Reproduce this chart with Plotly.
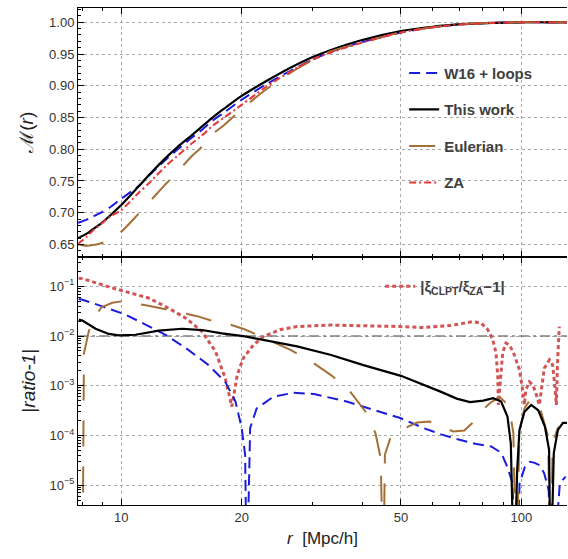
import plotly.graph_objects as go

# ---------------- top panel data: M(r) ----------------
r_top = [7.8, 8.2, 8.5, 8.9, 9.4, 10, 11, 11.8, 13, 13.8, 15, 15.8, 17, 18, 20, 23, 26.4, 30,
         33.3, 40, 50, 60, 71.5, 85, 100, 115, 130]
M_w16 = [0.684, 0.689, 0.694, 0.700, 0.709, 0.722, 0.741, 0.760, 0.785, 0.799, 0.818, 0.829,
         0.846, 0.857, 0.878, 0.902, 0.923, 0.941, 0.953, 0.969, 0.984, 0.992, 0.997, 0.999,
         1.000, 1.000, 1.000]
M_this = [0.660, 0.667, 0.674, 0.683, 0.696, 0.712, 0.740, 0.761, 0.788, 0.803, 0.822, 0.834,
          0.851, 0.863, 0.884, 0.907, 0.928, 0.945, 0.956, 0.972, 0.986, 0.993, 0.997, 0.999,
          1.000, 1.000, 1.000]
M_euler = [0.650, 0.648, 0.649, 0.652, 0.657, 0.670, 0.697, 0.718, 0.747, 0.764, 0.789, 0.802,
           0.825, 0.837, 0.863, 0.894, 0.920, 0.940, 0.954, 0.968, 0.984, 0.992, 0.997, 0.999,
           1.000, 1.000, 1.000]
M_za = [0.651, 0.662, 0.672, 0.682, 0.694, 0.704, 0.730, 0.748, 0.775, 0.789, 0.809, 0.820,
        0.838, 0.849, 0.870, 0.898, 0.922, 0.941, 0.952, 0.968, 0.984, 0.992, 0.997, 0.999,
        1.000, 1.000, 1.000]

# ---------------- bottom panel data: |ratio - 1| ----------------
r_this = [7.83, 8.0, 8.63, 9.31, 9.86, 10.86, 12.41, 14.19, 15.92, 17.86, 20.4, 22.7, 27.5, 33.3,
          40.3, 50, 57, 62.8, 68.9, 74.4, 80.3, 85, 89, 92.3, 94.1, 95.9, 97.6, 98.9, 101.8,
          105.8, 110.2, 114.5, 117.3, 118.3, 120.5, 123.4, 127, 130]
d_this = [0.0214, 0.0204, 0.0140, 0.0110, 0.0103, 0.0106, 0.0128, 0.0140, 0.0132, 0.0113, 0.0098,
          0.0084, 0.0062, 0.0042, 0.0026, 0.00158, 0.00105, 7.6e-4, 5.5e-4, 4.7e-4, 5.0e-4,
          5.6e-4, 4.8e-4, 2.4e-4, 6.9e-5, 1e-7, 2.0e-5, 1.29e-4, 3.0e-4, 4.1e-4, 3.2e-4, 1.5e-4,
          5.1e-5, 1e-7, 4.4e-5, 1.29e-4, 1.78e-4, 1.78e-4]

r_w16 = [7.83, 8.0, 8.97, 10.25, 11.5, 12.9, 14.5, 16.5, 18.2, 19.3, 20.0, 20.4, 20.6, 21.0, 21.8,
         24.0, 26.9, 30.3, 36.6, 44.2, 49.8, 56.9, 63, 68.9, 76.7, 84, 89, 92.3, 95, 96.9, 99,
         102, 105, 108, 111.1, 114, 117, 119.5, 124.8, 129]
d_w16 = [0.0556, 0.0537, 0.0395, 0.0269, 0.0170, 0.0106, 0.00575, 0.00263, 0.00120, 4.8e-4,
         1.41e-4, 4.1e-5, 1e-7, 1.41e-4, 3.5e-4, 6.0e-4, 7.2e-4, 6.8e-4, 4.8e-4, 3.0e-4, 2.24e-4,
         1.41e-4, 1.05e-4, 8.5e-5, 6.8e-5, 6.0e-5, 4.5e-5, 2.3e-5, 1.1e-5, 1e-7, 1.1e-5, 2.3e-5,
         2.95e-5, 2.8e-5, 2.5e-5, 1.74e-5, 7.9e-6, 1e-7, 1.1e-5, 1.48e-5]

r_euler = [8.0, 8.07, 8.3, 8.55, 8.93, 9.5, 10.06, 11.7, 13.4, 15.47, 17.5, 18.74, 20.4, 22.7,
           26.5, 29.7, 33.5, 37.2, 40.8, 43.2, 44.5, 45.2, 45.6, 47.2, 49.8, 54.9, 58.9, 63.4,
           67.5, 72.0, 75.4, 79.1, 83.5, 88.2, 90.8, 93.4, 95.5, 97.1, 98.9, 101.8, 105.8,
           111.1, 116.6, 118.3, 119.7, 123.4, 125]
d_euler = [1e-7, 0.00447, 0.0126, 0.0229, 0.038, 0.0468, 0.0501, 0.0407, 0.0324, 0.0251, 0.0186,
           0.0170, 0.0135, 0.0091, 0.00525, 0.00316, 0.00162, 7.9e-4, 3.0e-4, 1.1e-4, 3.5e-5,
           1e-7, 4.1e-5, 9.5e-5, 1.26e-4, 1.82e-4, 1.9e-4, 1.51e-4, 1.2e-4, 1.26e-4, 1.78e-4,
           2.95e-4, 4.5e-4, 5.9e-4, 4.8e-4, 3.2e-4, 1.12e-4, 1e-7, 1.26e-4, 3.5e-4, 5.6e-4,
           3.8e-4, 9.5e-5, 1e-7, 7.1e-5, 1.41e-4, 1.51e-4]

r_clpt = [7.83, 8.0, 9.31, 10.25, 11.7, 13.1, 14.5, 15.9, 17.2, 18.2, 18.9, 19.5, 20.2, 21.4,
          22.7, 25.0, 27.5, 33.3, 40.3, 49.8, 56.9, 66.3, 75.5, 79.3, 82.4, 84.8, 86.4, 87.3,
          87.6, 88.9, 89.8, 91.5, 93.4, 96.0, 98.9, 100.7, 101.7, 102.6, 104.7, 106.7, 108.7,
          110.9, 114.1, 117.5, 119.7, 121.3, 122.3, 123.2, 124.4]
d_clpt = [0.146, 0.143, 0.0973, 0.0794, 0.0583, 0.0367, 0.0229, 0.0124, 0.0049, 0.00141, 3.8e-4,
          0.00166, 0.00363, 0.0066, 0.0098, 0.0135, 0.0155, 0.0166, 0.0162, 0.0155, 0.0148,
          0.0162, 0.0195, 0.0182, 0.0135, 0.0085, 0.0046, 0.00155, 4.1e-4, 0.00155, 0.0046,
          0.0072, 0.0066, 0.0042, 0.0021, 8.3e-4, 4.1e-4, 8.3e-4, 0.0012, 0.00105, 7.1e-4,
          4.1e-4, 0.00224, 0.0033, 0.0026, 9.5e-4, 4.1e-4, 0.0033, 0.0155]

r_ref = [7.8, 130]
d_ref = [0.01, 0.01]

# ---------------- ticks ----------------
x_ticks = [10, 20, 50, 100]
x_minor = [8, 9, 30, 40, 60, 70, 80, 90]
y1_ticks = [0.65, 0.70, 0.75, 0.80, 0.85, 0.90, 0.95, 1.00]
y1_labels = ["0.65", "0.70", "0.75", "0.80", "0.85", "0.90", "0.95", "1.00"]
y1_minor = [0.63 + 0.01 * i for i in range(40)]
y2_ticks = [1e-1, 1e-2, 1e-3, 1e-4, 1e-5]
y2_labels = ["10<sup>−1</sup>", "10<sup>−2</sup>", "10<sup>−3</sup>", "10<sup>−4</sup>", "10<sup>−5</sup>"]
y2_minor = [m * 10.0 ** e for e in range(-6, 0) for m in range(2, 10)]

BLUE = "#1c1cdc"
BROWN = "#a56f38"
RED = "#ea3535"
RED2 = "#d25555"

fig = go.Figure()

# top panel
fig.add_trace(go.Scatter(x=r_top, y=M_w16, name="<b>W16 + loops</b>", mode="lines",
                         line=dict(color=BLUE, width=2, dash="11px,6px", shape="spline", smoothing=0.8),
                         xaxis="x", yaxis="y", legend="legend", legendgroup="a"))
fig.add_trace(go.Scatter(x=r_top, y=M_this, name="<b>This work</b>", mode="lines",
                         line=dict(color="black", width=2.2, shape="spline", smoothing=0.8),
                         xaxis="x", yaxis="y", legend="legend", legendgroup="b"))
fig.add_trace(go.Scatter(x=r_top, y=M_euler, name="<b>Eulerian</b>", mode="lines",
                         line=dict(color=BROWN, width=2, dash="26px,20px", shape="spline", smoothing=0.8),
                         xaxis="x", yaxis="y", legend="legend", legendgroup="c"))
fig.add_trace(go.Scatter(x=r_top, y=M_za, name="<b>ZA</b>", mode="lines",
                         line=dict(color=RED, width=2, dash="7px,3px,2px,3px", shape="spline", smoothing=0.8),
                         xaxis="x", yaxis="y", legend="legend", legendgroup="d"))

# bottom panel
fig.add_trace(go.Scatter(x=r_ref, y=d_ref, mode="lines", showlegend=False,
                         line=dict(color="#808080", width=1.5, dash="10px,4px,3px,4px"),
                         xaxis="x2", yaxis="y2"))
fig.add_trace(go.Scatter(x=r_clpt, y=d_clpt, mode="lines",
                         name="<b>|ξ<sub>CLPT</sub>/ξ<sub>ZA</sub>−1|</b>",
                         line=dict(color=RED2, width=3, dash="4px,3px"),
                         xaxis="x2", yaxis="y2", legend="legend2"))
fig.add_trace(go.Scatter(x=r_w16, y=d_w16, mode="lines", showlegend=False,
                         line=dict(color=BLUE, width=2, dash="11px,6px"),
                         xaxis="x2", yaxis="y2"))
fig.add_trace(go.Scatter(x=r_euler, y=d_euler, mode="lines", showlegend=False,
                         line=dict(color=BROWN, width=2, dash="26px,20px"),
                         xaxis="x2", yaxis="y2"))
fig.add_trace(go.Scatter(x=r_this, y=d_this, mode="lines", showlegend=False,
                         line=dict(color="black", width=2.2),
                         xaxis="x2", yaxis="y2"))

FONT = "Liberation Sans, Arial, sans-serif"
tickfont = dict(family=FONT, size=13, color="#333333")
grid = dict(showgrid=True, gridcolor="#a8a8a8", griddash="dot", gridwidth=1)

xcommon = dict(type="log", range=[0.892, 2.114], tickvals=x_ticks, ticktext=[str(v) for v in x_ticks],
               ticks="inside", ticklen=6, tickcolor="black", showline=True, linecolor="black",
               linewidth=1, mirror="ticks", zeroline=False, tickfont=tickfont, automargin=False,
               minor=dict(tickvals=x_minor, ticks="inside", ticklen=3, tickcolor="black", showgrid=False),
               **grid)

fig.update_layout(
    width=568, height=559,
    margin=dict(l=78, r=1, t=8, b=54),
    paper_bgcolor="white", plot_bgcolor="white",
    font=dict(family=FONT, color="#333333"),
    xaxis=dict(anchor="y", domain=[0, 1], showticklabels=False, matches="x2", **xcommon),
    xaxis2=dict(anchor="y2", domain=[0, 1],
                title=dict(text="<i>r</i>  [Mpc/h]", font=dict(family=FONT, size=17, color="#222222"),
                           standoff=8),
                **xcommon),
    yaxis=dict(anchor="x", domain=[0.5, 1], range=[0.631, 1.0225], tickvals=y1_ticks,
               ticktext=y1_labels, ticks="inside", ticklen=6, tickcolor="black", showline=True,
               linecolor="black", linewidth=1, mirror=False, zeroline=False, tickfont=tickfont,
               automargin=False,
               minor=dict(tickvals=y1_minor, ticks="inside", ticklen=3, tickcolor="black", showgrid=False),
               title=dict(text="ℳ(<i>r</i>)", font=dict(family=FONT, size=19, color="#222222"),
                          standoff=10),
               **grid),
    yaxis2=dict(anchor="x2", domain=[0, 0.5], type="log", range=[-5.4, -0.4], tickvals=y2_ticks,
                ticktext=y2_labels, ticks="inside", ticklen=6, tickcolor="black", showline=True,
                linecolor="black", linewidth=1, mirror=False, zeroline=False, tickfont=tickfont,
                automargin=False,
                minor=dict(tickvals=y2_minor, ticks="inside", ticklen=3, tickcolor="black", showgrid=False),
                title=dict(text="|<i>ratio-1</i>|", font=dict(family=FONT, size=19, color="#222222"),
                           standoff=8),
                **grid),
    legend=dict(x=0.667, y=0.902, xanchor="left", yanchor="top", bgcolor="rgba(0,0,0,0)",
                font=dict(family=FONT, size=15, color="#404040"), tracegroupgap=14,
                traceorder="grouped"),
    legend2=dict(x=0.618, y=0.473, xanchor="left", yanchor="top", bgcolor="rgba(0,0,0,0)",
                 font=dict(family=FONT, size=15, color="#404040")),
)

fig.write_html("out.html", config={"displayModeBar": False},
               post_script="document.body.style.margin='0';document.body.style.overflow='hidden';")
